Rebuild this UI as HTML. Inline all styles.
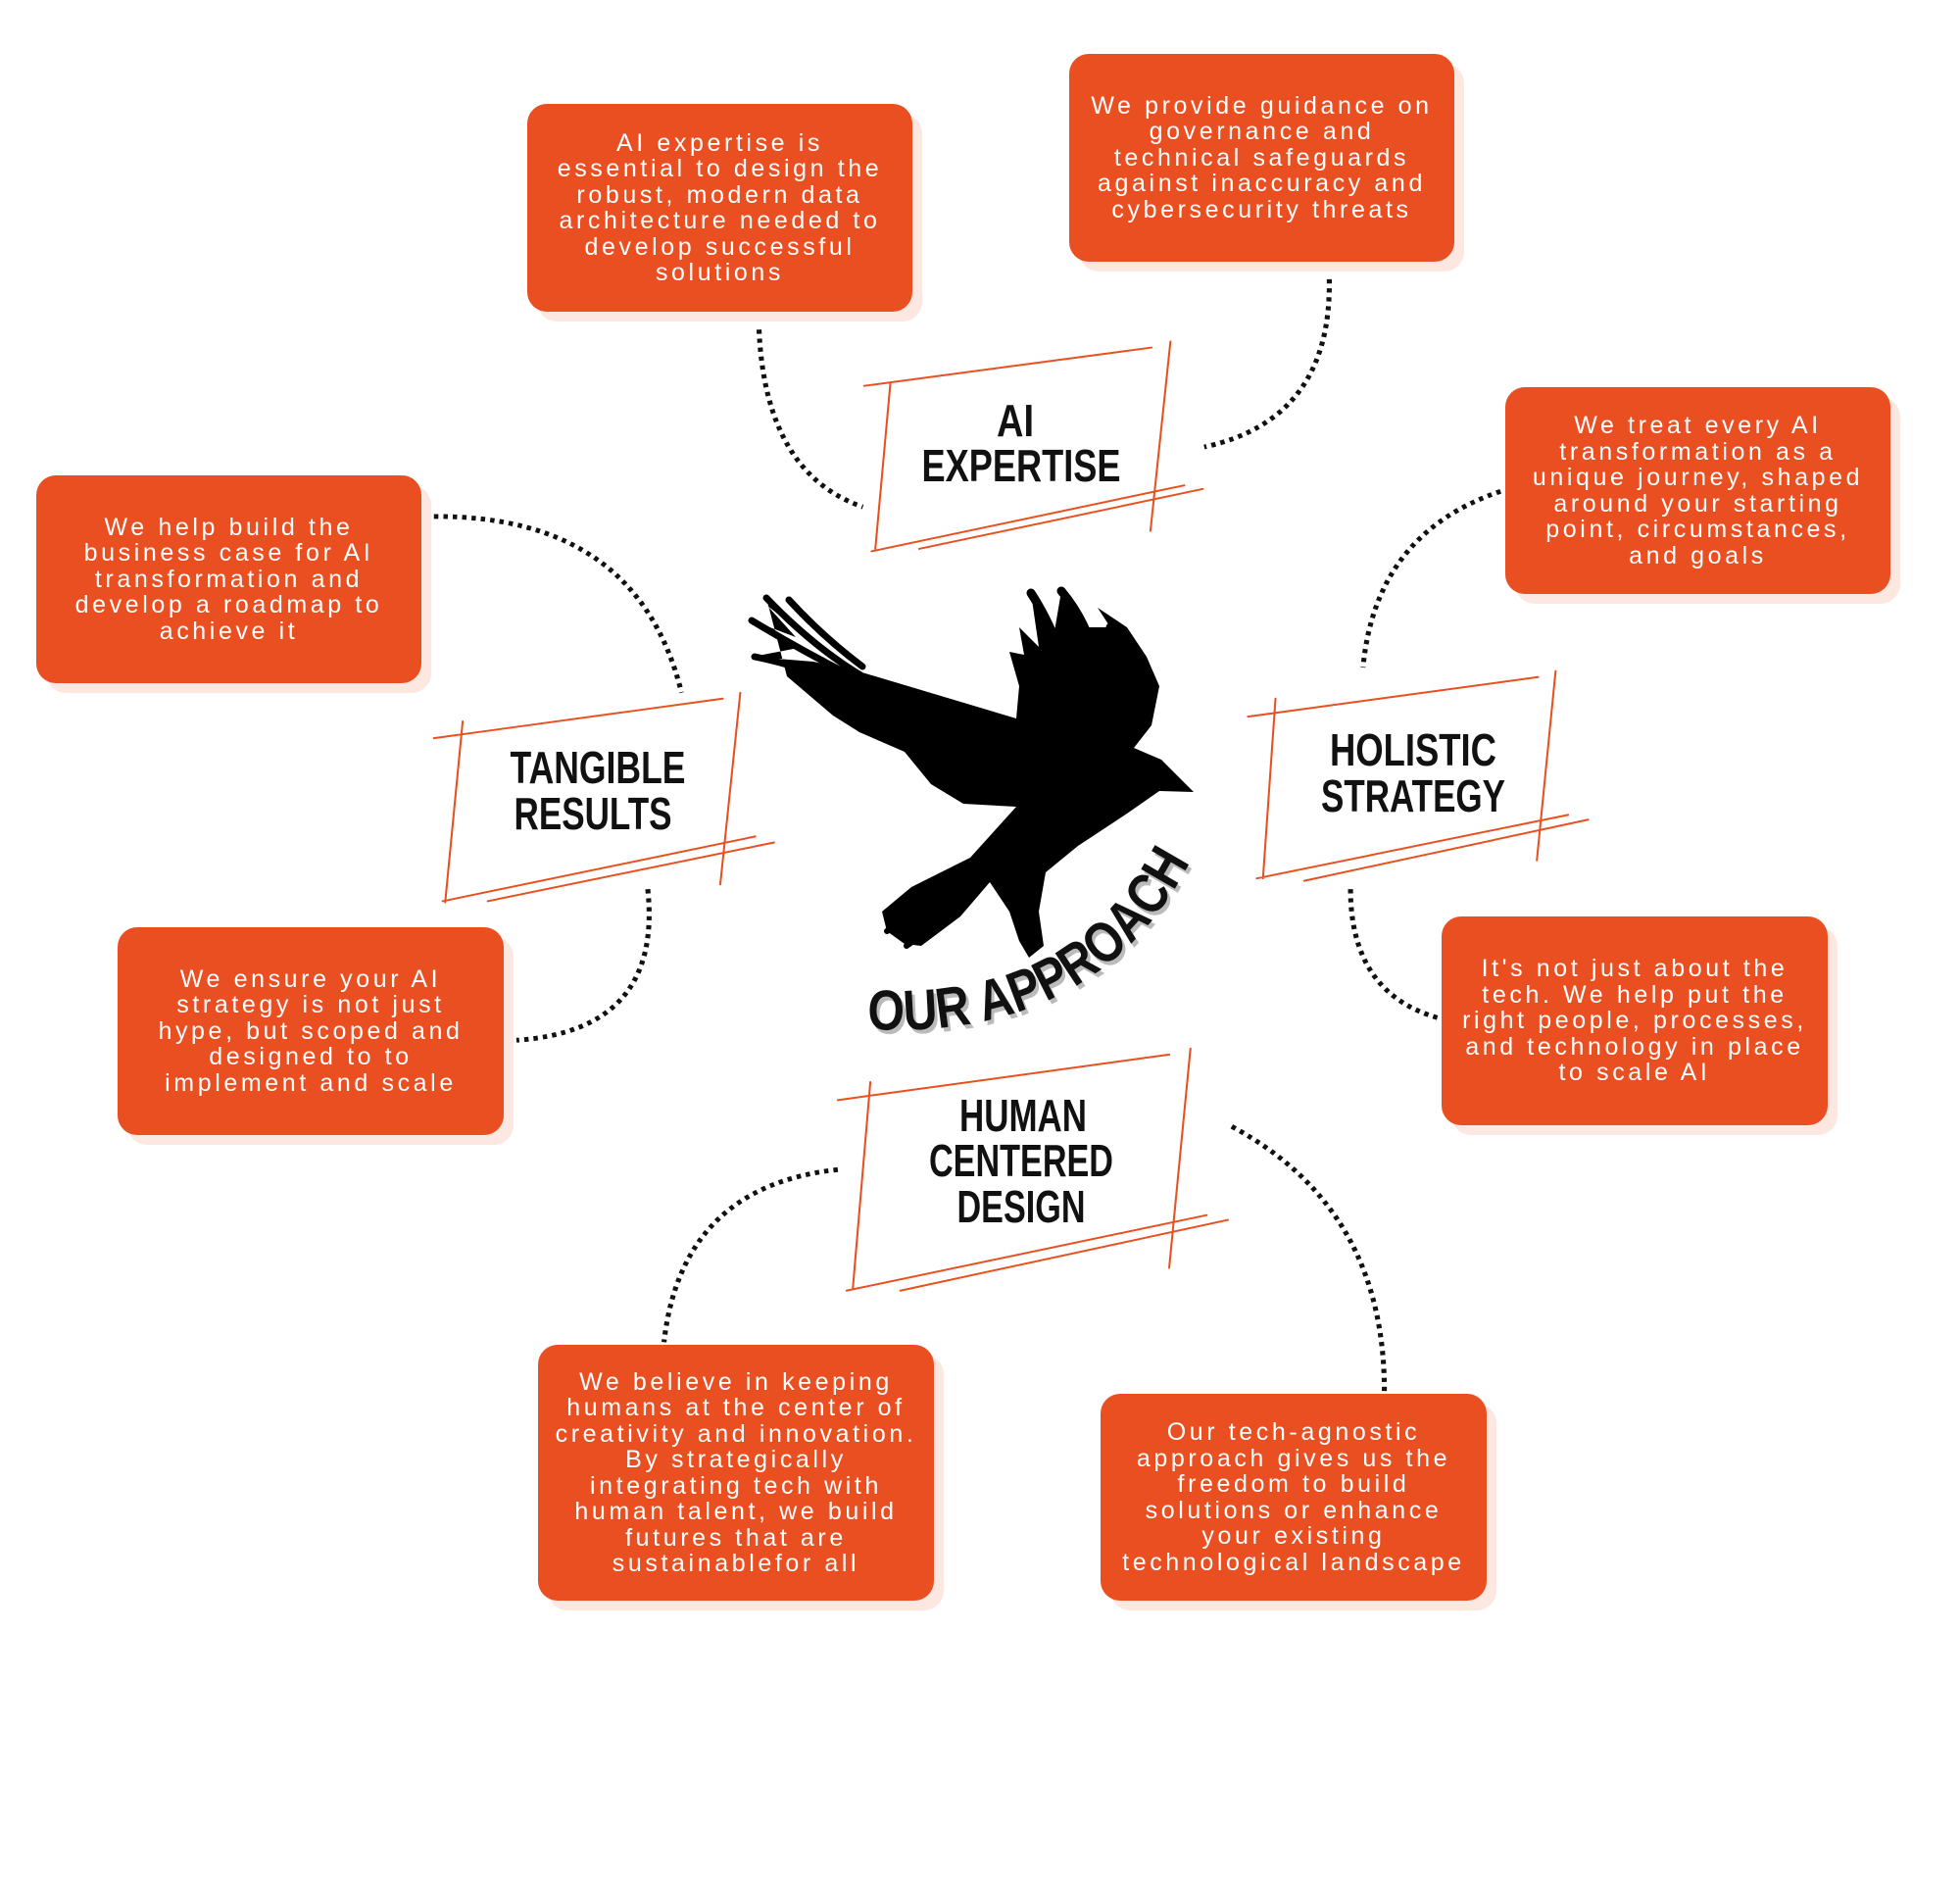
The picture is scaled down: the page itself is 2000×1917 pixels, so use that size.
<!DOCTYPE html>
<html><head><meta charset="utf-8"><style>
html,body{margin:0;padding:0;background:#fff;}
body{width:2000px;height:1917px;position:relative;overflow:hidden;font-family:"Liberation Sans",sans-serif;}
.b{position:absolute;background:#EA4F22;border-radius:20px;box-shadow:10px 10px 0 #fce8e1;color:#fff;display:flex;align-items:center;justify-content:center;text-align:center;font-size:25px;line-height:26.5px;letter-spacing:3.6px;white-space:nowrap;}
svg{position:absolute;left:0;top:0;}
</style></head><body>
<svg width="2000" height="1917" viewBox="0 0 2000 1917">
<g transform="scale(1.276,1.2226)" fill="none">
<g stroke="#E8501F" stroke-width="1.6" stroke-linecap="round">
<path d="M691,322 L921,290 M712,320 L700,458 M936,285 L920,443 M697,460 L947,405 M735,458 L962,408"/>
<path d="M347,616 L578,583 M370,602 L356,753 M592,578 L576,738 M354,752 L604,698 M390,752 L619,703"/>
<path d="M998,598 L1230,565 M1020,583 L1010,733 M1244,560 L1229,718 M1005,733 L1254,680 M1043,735 L1270,684"/>
<path d="M670,918 L935,880 M696,903 L682,1075 M952,875 L935,1058 M677,1077 L965,1014 M720,1077 L982,1018"/>
</g>
<g stroke="#111" stroke-width="4" stroke-dasharray="3.5 4">
<path d="M607,275 Q612,395 690,423"/>
<path d="M1063,233 Q1065,350 963,373"/>
<path d="M1200,410 Q1100,445 1090,557"/>
<path d="M1080,742 Q1080,830 1152,850"/>
<path d="M347,431 Q510,430 545,578"/>
<path d="M518,742 Q530,860 413,868"/>
<path d="M670,976 Q545,990 531,1120"/>
<path d="M985,940 Q1110,1010 1107,1168"/>
</g>
</g>
<g stroke="#000" stroke-linecap="round" fill="none">
<path stroke-width="7" d="M767,633 Q820,665 870,690 M782,610 Q830,660 880,690 M770,670 Q820,680 860,700 M805,612 Q840,650 880,680"/>
<path stroke-width="9" d="M1052,605 Q1075,640 1090,690 M1083,603 Q1110,635 1120,680 M1133,640 Q1160,670 1165,700 M1065,640 Q1075,680 1085,700"/>
<path stroke-width="6" d="M925,965 Q940,955 960,935 M905,950 Q930,935 960,915"/>
</g>
<path fill="#000" d="M782,610 L805,635 L783,618 L812,650 L767,633 L820,660 L768,670 L830,675 L883,687 L1037,733 L1040,700 L1030,665 L1045,668 L1040,640 L1060,660 L1052,605 L1075,650 L1083,603 L1110,640 L1133,640 L1120,620 L1150,640 L1170,670 L1183,700 L1175,740 L1157,763 L1185,775 L1218,808 L1183,807 L1150,830 L1100,863 L1067,890 L1060,930 L1065,965 L1050,977 L1040,960 L1030,930 L1010,900 L980,935 L940,965 L923,963 L905,950 L900,930 L930,905 L990,875 L1037,823 L983,820 L950,800 L923,767 L877,747 L850,730 L803,690 Z"/>
<defs><path id="arc" d="M885,1050 Q1120,1062 1215,878"/></defs>
<text font-family="'Liberation Sans Narrow','Liberation Sans',sans-serif" font-weight="bold" font-size="58" fill="#bbb" transform="translate(3,4)"><textPath href="#arc" textLength="395" lengthAdjust="spacingAndGlyphs">OUR APPROACH</textPath></text>
<text font-family="'Liberation Sans Narrow','Liberation Sans',sans-serif" font-weight="bold" font-size="58" fill="#111"><textPath href="#arc" textLength="395" lengthAdjust="spacingAndGlyphs">OUR APPROACH</textPath></text>
<g font-family="'Liberation Sans Narrow','Liberation Sans',sans-serif" font-weight="bold" font-size="46" fill="#111" text-anchor="middle">
<text x="1036" y="445" textLength="38" lengthAdjust="spacingAndGlyphs">AI</text>
<text x="1042" y="491" textLength="203" lengthAdjust="spacingAndGlyphs">EXPERTISE</text>
<text x="610" y="799" textLength="179" lengthAdjust="spacingAndGlyphs">TANGIBLE</text>
<text x="605" y="846" textLength="161" lengthAdjust="spacingAndGlyphs">RESULTS</text>
<text x="1442" y="781" textLength="170" lengthAdjust="spacingAndGlyphs">HOLISTIC</text>
<text x="1442" y="828" textLength="188" lengthAdjust="spacingAndGlyphs">STRATEGY</text>
<text x="1044" y="1154" textLength="130" lengthAdjust="spacingAndGlyphs">HUMAN</text>
<text x="1042" y="1200" textLength="188" lengthAdjust="spacingAndGlyphs">CENTERED</text>
<text x="1042" y="1247" textLength="131" lengthAdjust="spacingAndGlyphs">DESIGN</text>
</g>
</svg>
<div class="b" style="left:538px;top:106px;width:393px;height:212px;">AI expertise is<br>essential to design the<br>robust, modern data<br>architecture needed to<br>develop successful<br>solutions</div>
<div class="b" style="left:1091px;top:55px;width:393px;height:212px;">We provide guidance on<br>governance and<br>technical safeguards<br>against inaccuracy and<br>cybersecurity threats</div>
<div class="b" style="left:1536px;top:395px;width:393px;height:211px;">We treat every AI<br>transformation as a<br>unique journey, shaped<br>around your starting<br>point, circumstances,<br>and goals</div>
<div class="b" style="left:37px;top:485px;width:393px;height:212px;">We help build the<br>business case for AI<br>transformation and<br>develop a roadmap to<br>achieve it</div>
<div class="b" style="left:120px;top:946px;width:394px;height:212px;">We ensure your AI<br>strategy is not just<br>hype, but scoped and<br>designed to to<br>implement and scale</div>
<div class="b" style="left:1471px;top:935px;width:394px;height:213px;">It's not just about the<br>tech. We help put the<br>right people, processes,<br>and technology in place<br>to scale AI</div>
<div class="b" style="left:549px;top:1372px;width:404px;height:261px;">We believe in keeping<br>humans at the center of<br>creativity and innovation.<br>By strategically<br>integrating tech with<br>human talent, we build<br>futures that are<br>sustainablefor all</div>
<div class="b" style="left:1123px;top:1422px;width:394px;height:211px;">Our tech-agnostic<br>approach gives us the<br>freedom to build<br>solutions or enhance<br>your existing<br>technological landscape</div>
</body></html>
